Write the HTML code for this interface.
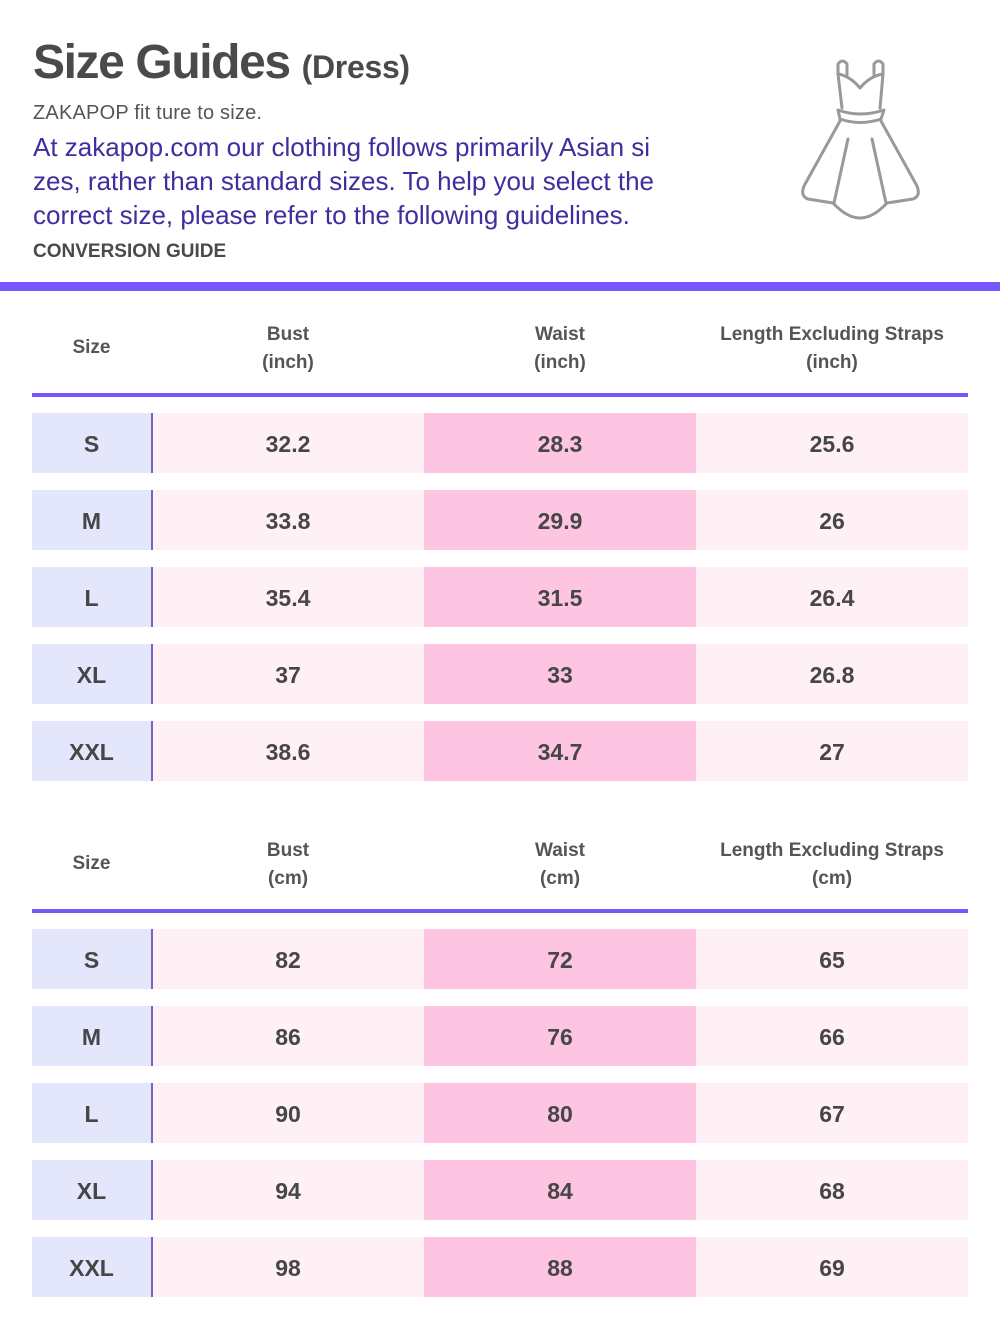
<!DOCTYPE html>
<html>
<head>
<meta charset="utf-8">
<style>
  html,body{margin:0;padding:0;background:#fff;}
  body{width:1000px;height:1332px;position:relative;overflow:hidden;font-family:"Liberation Sans","DejaVu Sans",sans-serif;}
  .abs{position:absolute;white-space:nowrap;}
  .title{left:33px;top:39px;font-size:48px;line-height:48px;font-weight:bold;color:#4a4a4a;letter-spacing:-1.4px;}
  .title span{font-size:32px;letter-spacing:-0.3px;}
  .sub{left:33px;top:103px;font-size:20px;line-height:20px;color:#555;letter-spacing:0.2px;}
  .para{left:33px;top:130px;font-size:26px;line-height:34px;color:#3f2e9e;}
  .conv{left:33px;top:242px;font-size:19px;line-height:19px;font-weight:bold;color:#4a4a4a;}
  .bar{left:0;top:282px;width:1000px;height:9px;background:#7855ff;}
  .hline{left:32px;width:936px;height:4px;background:#7855ff;}
  .hdr{position:absolute;text-align:center;font-size:19px;line-height:28px;font-weight:bold;color:#555;white-space:nowrap;}
  .row{position:absolute;left:32px;width:936px;height:60px;}
  .row div{position:absolute;top:0;height:60px;line-height:62px;text-align:center;font-size:23px;font-weight:bold;color:#464646;}
  .c0{left:0;width:119px;background:#e4e6fb;}
  .row .dv{left:119px;width:1.5px;background:#7566c4;}
  .c1{left:120px;width:272px;background:#fff0f6;}
  .c2{left:392px;width:272px;background:#fdc5e1;}
  .c3{left:664px;width:272px;background:#fff0f6;}
</style>
</head>
<body>
<div class="abs title">Size Guides <span>(Dress)</span></div>
<div class="abs sub">ZAKAPOP fit ture to size.</div>
<div class="abs para">At zakapop.com our clothing follows primarily Asian si<br>zes, rather than standard sizes. To help you select the<br>correct size, please refer to the following guidelines.</div>
<div class="abs conv">CONVERSION GUIDE</div>

<svg class="abs" style="left:780px;top:40px;" width="160" height="200" viewBox="780 40 160 200">
  <g fill="none" stroke="#999" stroke-width="3" stroke-linecap="round" stroke-linejoin="round">
    <path d="M838,74 L838,64 Q842.5,58 847,64 L847,76"/>
    <path d="M874,76 L874,64 Q878.5,58 883,64 L883,74"/>
    <path d="M838,74 Q850,76 860,88 Q870,76 883,74"/>
    <path d="M838,74 L842,108"/>
    <path d="M883,74 L880,108"/>
    <path d="M838,110 Q860,118 884,110 L881,119 Q860,126 840,119 Z"/>
    <path d="M840,121 L804,186 Q800,196 808,199 L833,203 Q847,218 860,218 Q873,218 887,203 L913,199 Q921,196 917,186 L881,121"/>
    <path d="M848,139 L834,203"/>
    <path d="M872,139 L886,203"/>
  </g>
</svg>

<div class="abs bar"></div>

<!-- Table 1 -->
<div class="hdr" style="left:32px;width:119px;top:334px;">Size</div>
<div class="hdr" style="left:152px;width:272px;top:321px;">Bust<br>(inch)</div>
<div class="hdr" style="left:424px;width:272px;top:321px;">Waist<br>(inch)</div>
<div class="hdr" style="left:696px;width:272px;top:321px;">Length Excluding Straps<br>(inch)</div>
<div class="abs hline" style="top:393px;"></div>

<div class="row" style="top:413px;"><div class="c0">S</div><div class="c1">32.2</div><div class="c2">28.3</div><div class="c3">25.6</div><div class="dv"></div></div>
<div class="row" style="top:490px;"><div class="c0">M</div><div class="c1">33.8</div><div class="c2">29.9</div><div class="c3">26</div><div class="dv"></div></div>
<div class="row" style="top:567px;"><div class="c0">L</div><div class="c1">35.4</div><div class="c2">31.5</div><div class="c3">26.4</div><div class="dv"></div></div>
<div class="row" style="top:644px;"><div class="c0">XL</div><div class="c1">37</div><div class="c2">33</div><div class="c3">26.8</div><div class="dv"></div></div>
<div class="row" style="top:721px;"><div class="c0">XXL</div><div class="c1">38.6</div><div class="c2">34.7</div><div class="c3">27</div><div class="dv"></div></div>

<!-- Table 2 -->
<div class="hdr" style="left:32px;width:119px;top:850px;">Size</div>
<div class="hdr" style="left:152px;width:272px;top:837px;">Bust<br>(cm)</div>
<div class="hdr" style="left:424px;width:272px;top:837px;">Waist<br>(cm)</div>
<div class="hdr" style="left:696px;width:272px;top:837px;">Length Excluding Straps<br>(cm)</div>
<div class="abs hline" style="top:909px;"></div>

<div class="row" style="top:929px;"><div class="c0">S</div><div class="c1">82</div><div class="c2">72</div><div class="c3">65</div><div class="dv"></div></div>
<div class="row" style="top:1006px;"><div class="c0">M</div><div class="c1">86</div><div class="c2">76</div><div class="c3">66</div><div class="dv"></div></div>
<div class="row" style="top:1083px;"><div class="c0">L</div><div class="c1">90</div><div class="c2">80</div><div class="c3">67</div><div class="dv"></div></div>
<div class="row" style="top:1160px;"><div class="c0">XL</div><div class="c1">94</div><div class="c2">84</div><div class="c3">68</div><div class="dv"></div></div>
<div class="row" style="top:1237px;"><div class="c0">XXL</div><div class="c1">98</div><div class="c2">88</div><div class="c3">69</div><div class="dv"></div></div>
</body>
</html>
